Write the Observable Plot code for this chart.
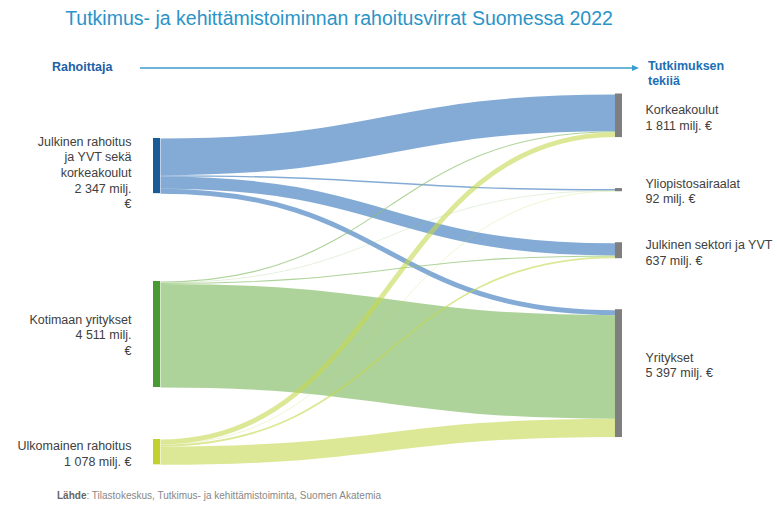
<!DOCTYPE html>
<html><head><meta charset="utf-8">
<script src="https://cdn.jsdelivr.net/npm/d3@7"></script>
<script src="https://cdn.jsdelivr.net/npm/@observablehq/plot@0.6"></script>
<style>
body{margin:0;width:777px;height:505px;background:#fff;font-family:"Liberation Sans",Arial,sans-serif;position:relative;overflow:hidden}
#title{position:absolute;left:0;width:678px;top:7px;text-align:center;font-size:19.5px;line-height:22px;color:#2b93c7;white-space:nowrap}
#hl{position:absolute;left:52px;top:60px;font-size:12.5px;font-weight:bold;color:#1e5fa6;line-height:15px}
#hr{position:absolute;left:648px;top:59px;font-size:12.5px;font-weight:bold;color:#1c6fb5;line-height:15px}
#arrow{position:absolute;left:0;top:0}
#chart{position:absolute;left:0;top:85px}
#footer{position:absolute;left:57px;top:490px;font-size:10px;color:#888;white-space:nowrap}
#footer b{color:#666}
</style></head><body>
<div id="title">Tutkimus- ja kehittämistoiminnan rahoitusvirrat Suomessa 2022</div>
<div id="hl">Rahoittaja</div>
<svg id="arrow" width="777" height="90"><line x1="140" y1="68" x2="633" y2="68" stroke="#3b9bcb" stroke-width="1.3"/><path d="M632,65 L639,68 L632,71 Z" fill="#3b9bcb"/></svg>
<div id="hr">Tutkimuksen<br>tekijä</div>
<div id="chart"></div>
<div id="footer"><b>Lähde</b>: Tilastokeskus, Tutkimus- ja kehittämistoiminta, Suomen Akatemia</div>
<script>
// ---- data (milj. €) ----
const sources = ["Julkinen rahoitus\nja YVT sekä\nkorkeakoulut", "Kotimaan yritykset", "Ulkomainen rahoitus"];
const sourceTotals = [2347, 4511, 1078];
const targets = ["Korkeakoulut", "Yliopistosairaalat", "Julkinen sektori ja YVT", "Yritykset"];
const targetTotals = [1811, 92, 637, 5397];
// flows from each source to targets (same order as targets)
const flowJulkinen = [1560, 60, 517, 210];
const flowKotimaan = [45, 14, 45, 4407];
const flowUlkomainen = [206, 18, 75, 779];

// ---- layout / style ----
const k = 0.0235;                 // px per milj. €
const leftGap = [1872, 3738, 2213];   // vertical space before each source node (value units)
const rightGap = [0, 2213, 2213, 2213];
const nodeW = 0.015;
const sourceColors = ["#1a5a96", "#4a9a34", "#c3d12f"];
const linkColors = ["#5b8fc7", "#8cc06f", "#c5d84f"];
const linkOpacity = [0.75, 0.7, 0.6];
const valueBreak = [true, true, false];
const leftShift = [6, 0, 1];
const rightShift = [1.5, 0.5, 1, -9];

const fmt = d3.formatLocale({thousands: "\u00a0", grouping: [3], decimal: ","}).format(",d");
const flows = [flowJulkinen, flowKotimaan, flowUlkomainen];

let acc = 0;
const leftNodes = sources.map((name, i) => {
  acc += leftGap[i];
  const n = {i, y0: acc, y1: acc + sourceTotals[i], color: sourceColors[i],
    label: name + "\n" + fmt(sourceTotals[i]) + (valueBreak[i] ? " milj.\n€" : " milj. €")};
  n.ly = (n.y0 + n.y1) / 2 + leftShift[i] / k;
  acc = n.y1; return n;
});
acc = 0;
const rightNodes = targets.map((name, j) => {
  acc += rightGap[j];
  const n = {j, y0: acc, y1: acc + targetTotals[j], label: name + "\n" + fmt(targetTotals[j]) + " milj. €"};
  n.ly = (n.y0 + n.y1) / 2 + rightShift[j] / k;
  acc = n.y1; return n;
});
const D = Math.max(leftNodes[leftNodes.length - 1].y1, rightNodes[rightNodes.length - 1].y1);

// stack links
const links = [];
const sOff = leftNodes.map(n => n.y0);
flows.forEach((row, i) => row.forEach((v, j) => {
  links.push({i, j, value: v, ys: sOff[i] + v / 2, yt: 0});
  sOff[i] += v;
}));
for (let j = 0; j < targets.length; j++) {
  let o = rightNodes[j].y0;
  links.filter(l => l.j === j).sort((a, b) => a.i - b.i).forEach(l => { l.yt = o + l.value / 2; o += l.value; });
}

const linkMarks = [0, 1, 2].map(i => Plot.link(links.filter(l => l.i === i), {
  x1: () => nodeW, x2: () => 1 - nodeW, y1: "ys", y2: "yt",
  curve: "bump-x", stroke: linkColors[i], strokeOpacity: linkOpacity[i],
  strokeWidth: d => d.value * k
}));

const chart = Plot.plot({
  width: 777, height: 400,
  x: {domain: [0, 1], range: [153, 622], axis: null},
  y: {domain: [0, D], range: [9, 9 + D * k], axis: null},
  color: {type: "identity"},
  style: {fontFamily: "'Liberation Sans', Arial, sans-serif", background: "white"},
  marks: [
    ...linkMarks,
    Plot.rect(leftNodes, {x1: () => 0, x2: () => nodeW, y1: "y0", y2: "y1", fill: "color"}),
    Plot.rect(rightNodes, {x1: () => 1 - nodeW, x2: () => 1, y1: "y0", y2: "y1", fill: "#7f7f7f", insetTop: -0.5, insetBottom: -0.5}),
    Plot.text(leftNodes, {x: () => 0, y: "ly", text: "label", textAnchor: "end", dx: -22, lineAnchor: "middle", lineHeight: 1.25, fontSize: 12.5, fill: "#404040"}),
    Plot.text(rightNodes, {x: () => 1, y: "ly", text: "label", textAnchor: "start", dx: 23, lineAnchor: "middle", lineHeight: 1.25, fontSize: 12.5, fill: "#404040"})
  ]
});
document.getElementById("chart").appendChild(chart);
</script>
</body></html>
